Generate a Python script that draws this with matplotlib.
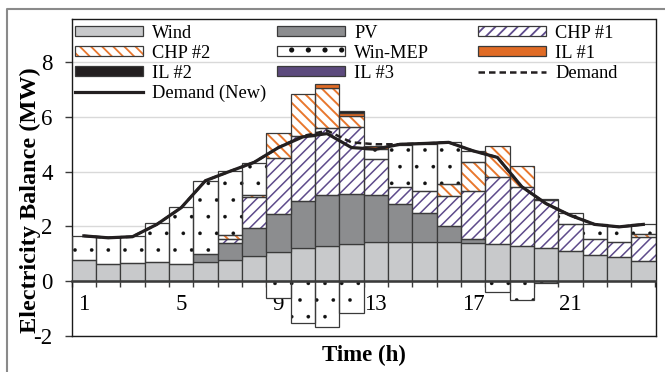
import numpy as np
import matplotlib
matplotlib.use('Agg')
import matplotlib.pyplot as plt
from matplotlib.patches import Patch
from matplotlib.lines import Line2D
from matplotlib.legend_handler import HandlerTuple

# ---------------- data ----------------
hours = list(range(1, 25))
wind = [0.75, 0.64, 0.65, 0.68, 0.64, 0.68, 0.75, 0.92, 1.05, 1.21, 1.28, 1.37,
        1.44, 1.44, 1.43, 1.43, 1.39, 1.37, 1.28, 1.21, 1.11, 0.96, 0.86, 0.74]
pv = [0, 0, 0, 0, 0, 0.32, 0.64, 1.03, 1.41, 1.70, 1.87, 1.82,
      1.69, 1.39, 1.05, 0.58, 0.16, 0, 0, 0, 0, 0, 0, 0]
chp1 = [0, 0, 0, 0, 0, 0, 0.13, 1.12, 2.04, 2.40, 2.44, 2.45,
        1.33, 0.60, 0.80, 1.09, 1.73, 2.45, 2.17, 1.74, 0.96, 0.56, 0.55, 0.87]
chp2 = [0, 0, 0, 0, 0, 0, 0.15, 0.08, 0.91, 1.52, 1.47, 0.41,
        0, 0, 0, 0.45, 1.08, 1.13, 0.77, 0.04, 0, 0, 0, 0.12]
win_mep = [0.91, 0.96, 0.98, 1.44, 2.06, 2.67, 2.34, 1.18, -0.63, -1.55, -1.70, -1.18,
           0.36, 1.54, 1.72, 1.52, 0.40, -0.42, -0.69, -0.08, 0.43, 0.55, 0.59, 0.34]
il1 = [0, 0, 0, 0, 0, 0, 0, 0, 0, 0, 0.13, 0.10,
       0.10, 0, 0, 0, 0, 0, 0, 0, 0, 0, 0, 0]
il2 = [0, 0, 0, 0, 0, 0, 0, 0, 0, 0, 0, 0.05,
       0, 0, 0, 0, 0, 0, 0, 0, 0, 0, 0, 0]
il3 = [0] * 24
demand = [1.65, 1.58, 1.62, 2.07, 2.68, 3.67, 4.01, 4.34, 4.88, 5.30, 5.50, 5.07,
          5.00, 5.00, 5.03, 5.07, 4.76, 4.52, 3.45, 2.83, 2.40, 2.07, 1.98, 2.07]
demand_new = [1.65, 1.58, 1.62, 2.07, 2.68, 3.67, 4.01, 4.34, 4.88, 5.27, 5.39, 4.88,
              4.82, 5.00, 5.03, 5.07, 4.76, 4.52, 3.45, 2.83, 2.40, 2.07, 1.98, 2.07]
xtick_labels = ['1', '5', '9', '13', '17', '21']

# ---------------- style ----------------
plt.rcParams['font.family'] = ['Liberation Serif', 'DejaVu Serif']
plt.rcParams['axes.unicode_minus'] = False
plt.rcParams['hatch.linewidth'] = 1.3

C_WIND = '#c8c9cb'
C_PV = '#8c8d8f'
C_CHP1 = '#5e4b8b'
C_CHP2 = '#e8772e'
C_IL1 = '#e06b25'
C_IL2 = '#231f20'
C_IL3 = '#5c4a7d'
C_EDGE = '#3a3a3a'
EW = 0.9

fig = plt.figure(figsize=(6.65, 3.72), dpi=100)
W, H = 665.0, 372.0
ax = fig.add_axes([71.7 / W, 1 - 335.7 / H, (655.5 - 71.7) / W, (335.7 - 19.3) / H])

x = np.array(hours, dtype=float)
series = [
    ('Wind', wind, dict(color=C_WIND)),
    ('PV', pv, dict(color=C_PV)),
    ('CHP #1', chp1, dict(color='white', hatch='///', hcolor=C_CHP1, hlw=1.1)),
    ('CHP #2', chp2, dict(color='white', hatch='\\\\\\', hcolor=C_CHP2, hlw=1.4)),
    ('Win-MEP', win_mep, dict(color='white', hatch='.', hcolor='#111111', hlw=0.2)),
    ('IL #1', il1, dict(color=C_IL1)),
    ('IL #2', il2, dict(color=C_IL2)),
    ('IL #3', il3, dict(color=C_IL3)),
]

pos_base = np.zeros(24)
neg_base = np.zeros(24)
handles = {}
for name, vals, st in series:
    v = np.array(vals, dtype=float)
    bottom = np.where(v >= 0, pos_base, neg_base)
    mask = v != 0
    if 'hatch' in st:
        with plt.rc_context({'hatch.linewidth': st['hlw']}):
            ax.bar(x[mask], v[mask], width=1.0, bottom=bottom[mask], color='white',
                   edgecolor=st['hcolor'], hatch=st['hatch'], linewidth=0, zorder=2)
            hp = Patch(facecolor='white', edgecolor=st['hcolor'], hatch=st['hatch'], linewidth=0)
        ax.bar(x[mask], v[mask], width=1.0, bottom=bottom[mask], fill=False,
               edgecolor=C_EDGE, linewidth=EW, zorder=3)
        handles[name] = (hp, Patch(fill=False, edgecolor=C_EDGE, linewidth=EW))
    else:
        ax.bar(x[mask], v[mask], width=1.0, bottom=bottom[mask], color=st['color'],
               edgecolor=C_EDGE, linewidth=EW, zorder=3)
        handles[name] = Patch(facecolor=st['color'], edgecolor=C_EDGE, linewidth=EW)
    pos_base = pos_base + np.where(v > 0, v, 0)
    neg_base = neg_base + np.where(v < 0, v, 0)

ax.plot(x, demand, color='#231f20', lw=1.8, linestyle=(0, (2.6, 1.6)), zorder=5)
ax.plot(x, demand_new, color='#231f20', lw=2.3, zorder=6)
handles['Demand'] = Line2D([], [], color='#231f20', lw=1.8, linestyle=(0, (2.6, 1.6)))
handles['Demand (New)'] = Line2D([], [], color='#231f20', lw=2.3)

# ---------------- axes ----------------
ax.set_xlim(0.5, 24.5)
ax.set_ylim(-2, 9.57)
ax.set_yticks([-2, 0, 2, 4, 6, 8])
ax.set_yticklabels(['-2', '0', '2', '4', '6', '8'])
ax.yaxis.grid(True, color='#d9d9d9', lw=1.0)
ax.set_axisbelow(True)
ax.tick_params(axis='y', direction='out', length=4.8, width=1, pad=9, labelsize=16.5, color=C_EDGE)

ax.set_xticks([1, 5, 9, 13, 17, 21])
ax.set_xticklabels(xtick_labels)
ax.set_xticks(np.arange(0.5, 25, 1.0), minor=True)
ax.tick_params(axis='x', which='major', length=0, pad=9, labelsize=16.5)
ax.tick_params(axis='x', which='minor', direction='out', length=4.2, width=1, color=C_EDGE)

ax.spines['bottom'].set_position(('data', 0))
ax.spines['bottom'].set_color('#3a3a3a')
ax.spines['bottom'].set_linewidth(1.8)
ax.spines['bottom'].set_zorder(7)
for s in ['left', 'right', 'top']:
    ax.spines[s].set_color('#1a1a1a')
    ax.spines[s].set_linewidth(1.0)
ax.add_line(Line2D([0, 1], [0, 0], transform=ax.transAxes, color='#1a1a1a', lw=1.0, clip_on=False))

# ---------------- legend (three columns) ----------------
cols = [['Wind', 'CHP #2', 'IL #2', 'Demand (New)'],
        ['PV', 'Win-MEP', 'IL #3'],
        ['CHP #1', 'IL #1', 'Demand']]
col_x = [75, 277, 478]
for i, (names, cx) in enumerate(zip(cols, col_x)):
    leg = ax.legend([handles[n] for n in names], names,
                    handler_map={tuple: HandlerTuple(ndivide=1, pad=0)},
                    loc='upper left', bbox_to_anchor=(cx / W, 1 - 24.5 / H),
                    bbox_transform=fig.transFigure, frameon=False,
                    fontsize=13.2, handlelength=3.7, handleheight=0.46,
                    handletextpad=0.5, labelspacing=0.17, borderpad=0, borderaxespad=0)
    if i < len(cols) - 1:
        ax.add_artist(leg)

# ---------------- labels ----------------
fig.text(30 / W, 1 - 200 / H, 'Electricity Balance (MW)', rotation=90, ha='center', va='center',
         fontsize=17.5, fontweight='bold')
fig.text(364 / W, 1 - 355 / H, 'Time (h)', ha='center', va='center', fontsize=16.5, fontweight='bold')

# figure border
fig.add_artist(Line2D([6.7 / W, 6.7 / W, 1.0], [0, 1 - 9 / H, 1 - 9 / H], transform=fig.transFigure,
                      color='#8a8a8a', lw=1.5))

fig.savefig('out.png', dpi=100)
